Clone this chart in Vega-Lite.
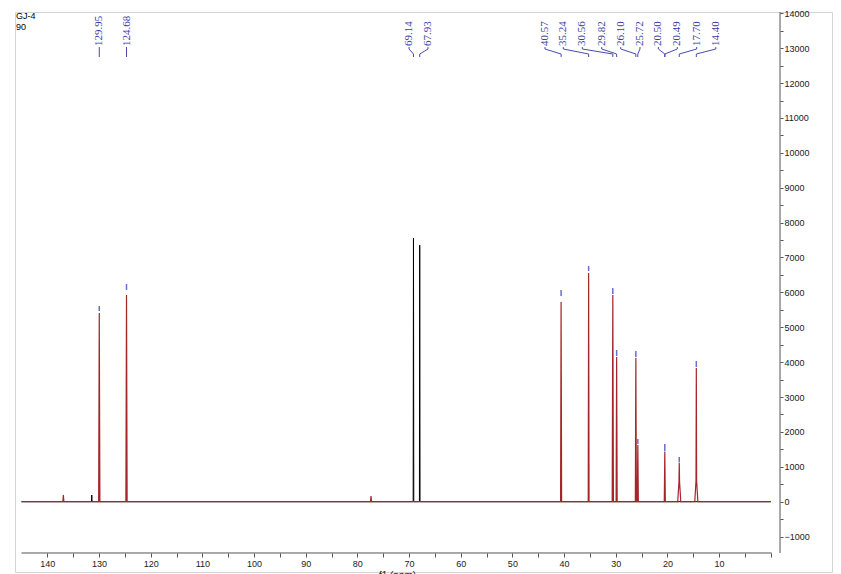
{
  "$schema": "https://vega.github.io/schema/vega-lite/v6.json",
  "width": 817,
  "height": 560,
  "autosize": {"type": "none"},
  "padding": {"left": 15, "top": 12, "right": 9, "bottom": 2},
  "background": "white",
  "config": {
    "view": {"stroke": "#d4d4d4", "strokeWidth": 1},
    "axis": {"grid": false, "domain": false}
  },
  "datasets": {
    "axl": [
      {"x": 145.0, "x2": -0.19, "y": -1470, "y2": -1470},
      {"x": -1.8, "x2": -1.8, "y": -1470, "y2": 14037}
    ],
    "black": [
      {"x": 145.0, "y": 0},
      {"x": 131.46, "y": 0}, {"x": 131.4, "y": 192}, {"x": 131.34, "y": 0},
      {"x": 69.2, "y": 0}, {"x": 69.14, "y": 7553}, {"x": 69.08, "y": 0},
      {"x": 67.99, "y": 0}, {"x": 67.93, "y": 7353}, {"x": 67.87, "y": 0},
      {"x": 0.0, "y": 0}
    ],
    "red": [
      {"x": 145.0, "y": 0},
      {"x": 137.0, "y": 0}, {"x": 136.9, "y": 192}, {"x": 136.8, "y": 0},
      {"x": 130.07, "y": 0}, {"x": 129.95, "y": 5409}, {"x": 129.83, "y": 0},
      {"x": 124.8, "y": 0}, {"x": 124.68, "y": 5925}, {"x": 124.56, "y": 0},
      {"x": 77.46, "y": 0}, {"x": 77.36, "y": 163}, {"x": 77.26, "y": 0},
      {"x": 40.67, "y": 0}, {"x": 40.57, "y": 5724}, {"x": 40.47, "y": 0},
      {"x": 35.32, "y": 0}, {"x": 35.24, "y": 6556}, {"x": 35.16, "y": 0},
      {"x": 30.68, "y": 0}, {"x": 30.56, "y": 5925}, {"x": 30.44, "y": 0},
      {"x": 29.92, "y": 0}, {"x": 29.82, "y": 4147}, {"x": 29.72, "y": 0},
      {"x": 26.2, "y": 0}, {"x": 26.10, "y": 4119}, {"x": 26.0, "y": 0},
      {"x": 25.82, "y": 0}, {"x": 25.72, "y": 1625}, {"x": 25.62, "y": 0},
      {"x": 20.6, "y": 0}, {"x": 20.50, "y": 1425}, {"x": 20.4, "y": 0},
      {"x": 18.0, "y": 0}, {"x": 17.76, "y": 560}, {"x": 17.70, "y": 1110}, {"x": 17.64, "y": 560}, {"x": 17.40, "y": 0},
      {"x": 14.70, "y": 0}, {"x": 14.46, "y": 600}, {"x": 14.40, "y": 3832}, {"x": 14.34, "y": 600}, {"x": 14.10, "y": 0},
      {"x": 0.0, "y": 0}
    ],
    "marks": [
      {"x": 129.95, "y": 5466, "y2": 5610},
      {"x": 124.68, "y": 6068, "y2": 6240},
      {"x": 40.57, "y": 5897, "y2": 6068},
      {"x": 35.24, "y": 6613, "y2": 6756},
      {"x": 30.56, "y": 5954, "y2": 6126},
      {"x": 29.82, "y": 4176, "y2": 4348},
      {"x": 26.10, "y": 4147, "y2": 4319},
      {"x": 25.72, "y": 1654, "y2": 1797},
      {"x": 20.50, "y": 1440, "y2": 1654},
      {"x": 17.70, "y": 1125, "y2": 1282},
      {"x": 14.40, "y": 3861, "y2": 4033}
    ],
    "labels": [
      {"x": 129.95, "y": 13062, "t": "129.95"},
      {"x": 124.68, "y": 13062, "t": "124.68"},
      {"x": 70.0, "y": 13062, "t": "69.14"},
      {"x": 66.33, "y": 13062, "t": "67.93"},
      {"x": 43.69, "y": 13062, "t": "40.57"},
      {"x": 40.14, "y": 13062, "t": "35.24"},
      {"x": 36.46, "y": 13062, "t": "30.56"},
      {"x": 32.71, "y": 13062, "t": "29.82"},
      {"x": 29.03, "y": 13062, "t": "26.10"},
      {"x": 25.30, "y": 13062, "t": "25.72"},
      {"x": 21.75, "y": 13062, "t": "20.50"},
      {"x": 18.08, "y": 13062, "t": "20.49"},
      {"x": 14.32, "y": 13062, "t": "17.70"},
      {"x": 10.64, "y": 13062, "t": "14.40"}
    ],
    "conn": [
      {"id": "a", "o": 1, "x": 129.95, "y": 13033}, {"id": "a", "o": 2, "x": 129.95, "y": 12976}, {"id": "a", "o": 3, "x": 129.95, "y": 12833}, {"id": "a", "o": 4, "x": 129.95, "y": 12747},
      {"id": "b", "o": 1, "x": 124.68, "y": 13033}, {"id": "b", "o": 2, "x": 124.68, "y": 12976}, {"id": "b", "o": 3, "x": 124.68, "y": 12833}, {"id": "b", "o": 4, "x": 124.68, "y": 12747},
      {"id": "c", "o": 1, "x": 70.0, "y": 13033}, {"id": "c", "o": 2, "x": 70.0, "y": 12976}, {"id": "c", "o": 3, "x": 69.14, "y": 12833}, {"id": "c", "o": 4, "x": 69.14, "y": 12747},
      {"id": "d", "o": 1, "x": 66.33, "y": 13033}, {"id": "d", "o": 2, "x": 66.33, "y": 12976}, {"id": "d", "o": 3, "x": 67.93, "y": 12833}, {"id": "d", "o": 4, "x": 67.93, "y": 12747},
      {"id": "e", "o": 1, "x": 43.69, "y": 13033}, {"id": "e", "o": 2, "x": 43.69, "y": 12976}, {"id": "e", "o": 3, "x": 40.57, "y": 12833}, {"id": "e", "o": 4, "x": 40.57, "y": 12747},
      {"id": "f", "o": 1, "x": 40.14, "y": 13033}, {"id": "f", "o": 2, "x": 40.14, "y": 12976}, {"id": "f", "o": 3, "x": 35.24, "y": 12833}, {"id": "f", "o": 4, "x": 35.24, "y": 12747},
      {"id": "g", "o": 1, "x": 36.46, "y": 13033}, {"id": "g", "o": 2, "x": 36.46, "y": 12976}, {"id": "g", "o": 3, "x": 30.56, "y": 12833}, {"id": "g", "o": 4, "x": 30.56, "y": 12747},
      {"id": "h", "o": 1, "x": 32.71, "y": 13033}, {"id": "h", "o": 2, "x": 32.71, "y": 12976}, {"id": "h", "o": 3, "x": 29.82, "y": 12833}, {"id": "h", "o": 4, "x": 29.82, "y": 12747},
      {"id": "i", "o": 1, "x": 29.03, "y": 13033}, {"id": "i", "o": 2, "x": 29.03, "y": 12976}, {"id": "i", "o": 3, "x": 26.10, "y": 12833}, {"id": "i", "o": 4, "x": 26.10, "y": 12747},
      {"id": "j", "o": 1, "x": 25.30, "y": 13033}, {"id": "j", "o": 2, "x": 25.30, "y": 12976}, {"id": "j", "o": 3, "x": 25.72, "y": 12833}, {"id": "j", "o": 4, "x": 25.72, "y": 12747},
      {"id": "k", "o": 1, "x": 21.75, "y": 13033}, {"id": "k", "o": 2, "x": 21.75, "y": 12976}, {"id": "k", "o": 3, "x": 20.50, "y": 12833}, {"id": "k", "o": 4, "x": 20.50, "y": 12747},
      {"id": "l", "o": 1, "x": 18.08, "y": 13033}, {"id": "l", "o": 2, "x": 18.08, "y": 12976}, {"id": "l", "o": 3, "x": 20.49, "y": 12833}, {"id": "l", "o": 4, "x": 20.49, "y": 12747},
      {"id": "m", "o": 1, "x": 14.32, "y": 13033}, {"id": "m", "o": 2, "x": 14.32, "y": 12976}, {"id": "m", "o": 3, "x": 17.70, "y": 12833}, {"id": "m", "o": 4, "x": 17.70, "y": 12747},
      {"id": "n", "o": 1, "x": 10.64, "y": 13033}, {"id": "n", "o": 2, "x": 10.64, "y": 12976}, {"id": "n", "o": 3, "x": 14.40, "y": 12833}, {"id": "n", "o": 4, "x": 14.40, "y": 12747}
    ],
    "head": [
      {"x": 146.05, "y": 14028, "t": "GJ-4"},
      {"x": 146.05, "y": 13734, "t": "90"}
    ]
  },
  "encoding": {
    "x": {
      "field": "x", "type": "quantitative",
      "scale": {"domain": [-11.86, 146.26], "reverse": true, "nice": false, "zero": false},
      "axis": {
        "orient": "bottom", "offset": -19,
        "values": [0, 5, 10, 15, 20, 25, 30, 35, 40, 45, 50, 55, 60, 65, 70, 75, 80, 85, 90, 95, 100, 105, 110, 115, 120, 125, 130, 135, 140],
        "format": "d",
        "labelExpr": "(datum.value % 10 === 0 && datum.value > 0) ? datum.label : ''",
        "tickSize": 4, "tickColor": "#555555",
        "labelFont": "Liberation Sans", "labelFontSize": 9, "labelColor": "#222222", "labelPadding": 2,
        "labelOverlap": false, "labelFlush": false,
        "title": "f1 (ppm)", "titleFont": "Liberation Sans", "titleFontSize": 10, "titleFontWeight": "normal",
        "titleColor": "#222222", "titlePadding": 2, "titleX": 382
      }
    },
    "y": {
      "field": "y", "type": "quantitative",
      "scale": {"domain": [-2015, 14037], "nice": false, "zero": false},
      "axis": {
        "orient": "right", "offset": -52,
        "values": [-1000, -500, 0, 500, 1000, 1500, 2000, 2500, 3000, 3500, 4000, 4500, 5000, 5500, 6000, 6500, 7000, 7500, 8000, 8500, 9000, 9500, 10000, 10500, 11000, 11500, 12000, 12500, 13000, 13500, 14000],
        "format": "d",
        "labelExpr": "datum.value % 1000 === 0 ? datum.label : ''",
        "tickSize": 3, "tickColor": "#555555",
        "labelFont": "Liberation Sans", "labelFontSize": 9, "labelColor": "#222222", "labelPadding": 1,
        "labelOverlap": false, "labelFlush": false,
        "title": null
      }
    }
  },
  "layer": [
    {
      "data": {"name": "axl"},
      "mark": {"type": "rule", "color": "#555555", "strokeWidth": 1},
      "encoding": {"x2": {"field": "x2"}, "y2": {"field": "y2"}}
    },
    {
      "data": {"name": "black"},
      "mark": {"type": "line", "color": "#000000", "strokeWidth": 1},
      "encoding": {}
    },
    {
      "data": {"name": "red"},
      "mark": {"type": "line", "color": "#a3262b", "strokeWidth": 1.2},
      "encoding": {}
    },
    {
      "data": {"name": "marks"},
      "mark": {"type": "rule", "color": "#6b6bd3", "strokeWidth": 1.5},
      "encoding": {"y2": {"field": "y2"}}
    },
    {
      "data": {"name": "conn"},
      "mark": {"type": "line", "color": "#4a4ab0", "strokeWidth": 1},
      "encoding": {"detail": {"field": "id"}, "order": {"field": "o", "type": "quantitative"}}
    },
    {
      "data": {"name": "labels"},
      "mark": {"type": "text", "angle": 270, "align": "left", "baseline": "middle", "font": "Liberation Serif", "fontSize": 11, "color": "#3a3aa6"},
      "encoding": {"text": {"field": "t"}}
    },
    {
      "data": {"name": "head"},
      "mark": {"type": "text", "align": "left", "baseline": "top", "font": "Liberation Sans", "fontSize": 9, "color": "#000000"},
      "encoding": {"text": {"field": "t"}}
    }
  ]
}
